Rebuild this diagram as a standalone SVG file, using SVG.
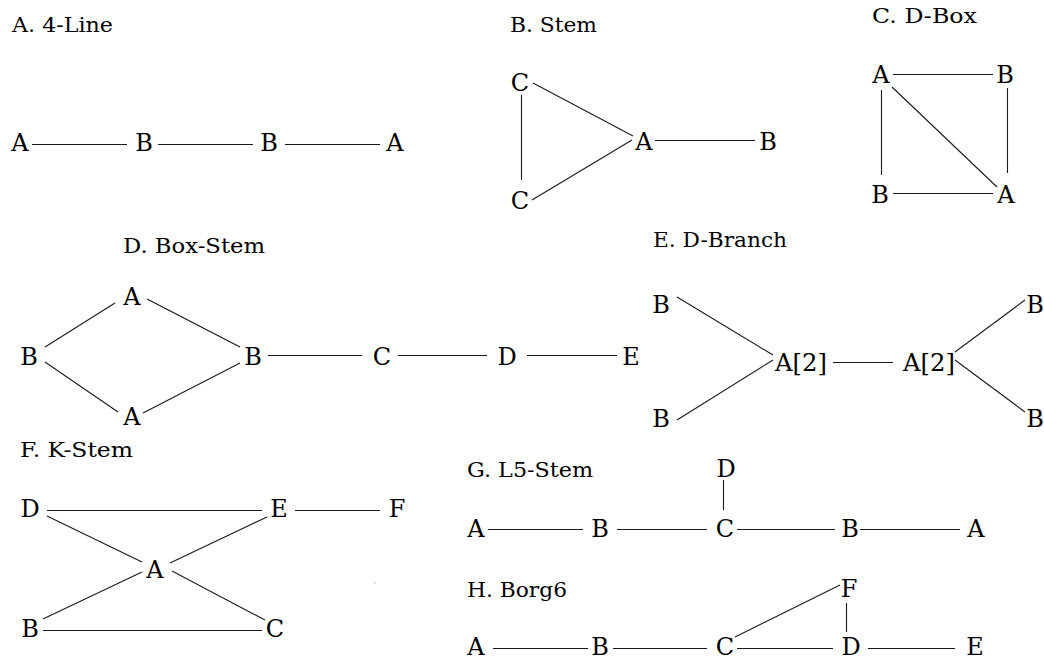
<svg xmlns="http://www.w3.org/2000/svg" width="1044" height="662" viewBox="0 0 1044 662" font-family="DejaVu Serif, serif">
<style>
text{fill:#000}
.t{font-size:21px}
.n{font-size:24px;text-anchor:middle}
.a{font-size:24px}
#connectors line{stroke:#1a1a1a;stroke-width:1.1;fill:none}
</style>
<rect width="1044" height="662" fill="#fff"/>
<g id="titles">
<text class="t" x="12" y="32" textLength="101" lengthAdjust="spacingAndGlyphs">A. 4-Line</text>
<text class="t" x="510" y="32" textLength="87" lengthAdjust="spacingAndGlyphs">B. Stem</text>
<text class="t" x="872" y="23" textLength="105" lengthAdjust="spacingAndGlyphs">C. D-Box</text>
<text class="t" x="123" y="253" textLength="142" lengthAdjust="spacingAndGlyphs">D. Box-Stem</text>
<text class="t" x="653" y="247" textLength="134" lengthAdjust="spacingAndGlyphs">E. D-Branch</text>
<text class="t" x="20" y="457" textLength="113" lengthAdjust="spacingAndGlyphs">F. K-Stem</text>
<text class="t" x="467" y="477" textLength="126" lengthAdjust="spacingAndGlyphs">G. L5-Stem</text>
<text class="t" x="467" y="597" textLength="100" lengthAdjust="spacingAndGlyphs">H. Borg6</text>
</g>
<g id="connectors">
<line x1="32" y1="144.5" x2="127" y2="144.5"/>
<line x1="158" y1="144.5" x2="253" y2="144.5"/>
<line x1="285" y1="144.5" x2="380" y2="144.5"/>
<line x1="533" y1="83" x2="633" y2="136"/>
<line x1="521.5" y1="95" x2="521.5" y2="180"/>
<line x1="532" y1="200" x2="632" y2="140"/>
<line x1="655" y1="140.5" x2="755" y2="140.5"/>
<line x1="893" y1="74.5" x2="993" y2="74.5"/>
<line x1="881.5" y1="90" x2="881.5" y2="175"/>
<line x1="1007.5" y1="88" x2="1007.5" y2="173"/>
<line x1="893" y1="193.5" x2="993" y2="193.5"/>
<line x1="892" y1="87" x2="997" y2="187"/>
<line x1="45" y1="347" x2="115" y2="303"/>
<line x1="147" y1="299" x2="240" y2="347"/>
<line x1="45" y1="362" x2="118" y2="412"/>
<line x1="143" y1="413" x2="240" y2="363"/>
<line x1="268" y1="355.5" x2="362" y2="355.5"/>
<line x1="398" y1="355.5" x2="487" y2="355.5"/>
<line x1="527" y1="355.5" x2="617" y2="355.5"/>
<line x1="677" y1="297" x2="773" y2="355"/>
<line x1="677" y1="420" x2="773" y2="360"/>
<line x1="833" y1="362.5" x2="893" y2="362.5"/>
<line x1="955" y1="352" x2="1025" y2="300"/>
<line x1="955" y1="360" x2="1025" y2="412"/>
<line x1="47" y1="510.5" x2="262" y2="510.5"/>
<line x1="295" y1="510.5" x2="380" y2="510.5"/>
<line x1="47" y1="516" x2="142" y2="562"/>
<line x1="267" y1="517" x2="170" y2="563"/>
<line x1="43" y1="619" x2="142" y2="572"/>
<line x1="172" y1="571" x2="265" y2="620"/>
<line x1="43" y1="630.5" x2="262" y2="630.5"/>
<line x1="723.5" y1="480" x2="723.5" y2="510"/>
<line x1="488" y1="529.5" x2="583" y2="529.5"/>
<line x1="617" y1="529.5" x2="707" y2="529.5"/>
<line x1="737" y1="529.5" x2="835" y2="529.5"/>
<line x1="860" y1="529.5" x2="960" y2="529.5"/>
<line x1="493" y1="648.5" x2="588" y2="648.5"/>
<line x1="613" y1="648.5" x2="707" y2="648.5"/>
<line x1="737" y1="648.5" x2="833" y2="648.5"/>
<line x1="868" y1="648.5" x2="955" y2="648.5"/>
<line x1="846.5" y1="603" x2="846.5" y2="632"/>
<line x1="735" y1="637" x2="840" y2="585"/>
</g>
<rect x="374.5" y="582.5" width="1" height="1" fill="#888"/>
<g id="nodes">
<g id="a-A1"><text class="n" x="20" y="151">A</text></g>
<g id="a-B1"><text class="n" x="144" y="151">B</text></g>
<g id="a-B2"><text class="n" x="269" y="151">B</text></g>
<g id="a-A2"><text class="n" x="395" y="151">A</text></g>
<g id="b-C1"><text class="n" x="520" y="91">C</text></g>
<g id="b-C2"><text class="n" x="520" y="209">C</text></g>
<g id="b-A"><text class="n" x="644" y="150">A</text></g>
<g id="b-B"><text class="n" x="768" y="150">B</text></g>
<g id="c-A1"><text class="n" x="881" y="83">A</text></g>
<g id="c-B1"><text class="n" x="1005" y="83">B</text></g>
<g id="c-B2"><text class="n" x="880" y="203">B</text></g>
<g id="c-A2"><text class="n" x="1006" y="203">A</text></g>
<g id="d-B1"><text class="n" x="29" y="365">B</text></g>
<g id="d-A1"><text class="n" x="132" y="305">A</text></g>
<g id="d-A2"><text class="n" x="132" y="425">A</text></g>
<g id="d-B2"><text class="n" x="253" y="365">B</text></g>
<g id="d-C"><text class="n" x="382" y="365">C</text></g>
<g id="d-D"><text class="n" x="507" y="365">D</text></g>
<g id="d-E"><text class="n" x="631" y="365">E</text></g>
<g id="e-B1"><text class="n" x="661" y="313">B</text></g>
<g id="e-B2"><text class="n" x="661" y="427">B</text></g>
<g id="e-A1"><text class="a" x="775" y="371" textLength="52" lengthAdjust="spacingAndGlyphs">A[2]</text></g>
<g id="e-A2"><text class="a" x="903" y="371" textLength="52" lengthAdjust="spacingAndGlyphs">A[2]</text></g>
<g id="e-B3"><text class="n" x="1035" y="313">B</text></g>
<g id="e-B4"><text class="n" x="1035" y="427">B</text></g>
<g id="f-D"><text class="n" x="30" y="517">D</text></g>
<g id="f-E"><text class="n" x="279" y="517">E</text></g>
<g id="f-F"><text class="n" x="397" y="517">F</text></g>
<g id="f-A"><text class="n" x="155" y="578">A</text></g>
<g id="f-B"><text class="n" x="30" y="637">B</text></g>
<g id="f-C"><text class="n" x="275" y="637">C</text></g>
<g id="g-D"><text class="n" x="726" y="477">D</text></g>
<g id="g-A1"><text class="n" x="476" y="537">A</text></g>
<g id="g-B1"><text class="n" x="600" y="537">B</text></g>
<g id="g-C"><text class="n" x="725" y="537">C</text></g>
<g id="g-B2"><text class="n" x="850" y="537">B</text></g>
<g id="g-A2"><text class="n" x="976" y="537">A</text></g>
<g id="h-A"><text class="n" x="476" y="655">A</text></g>
<g id="h-B"><text class="n" x="600" y="655">B</text></g>
<g id="h-C"><text class="n" x="725" y="655">C</text></g>
<g id="h-D"><text class="n" x="851" y="655">D</text></g>
<g id="h-E"><text class="n" x="975" y="655">E</text></g>
<g id="h-F"><text class="n" x="849" y="597">F</text></g>
</g>
</svg>
